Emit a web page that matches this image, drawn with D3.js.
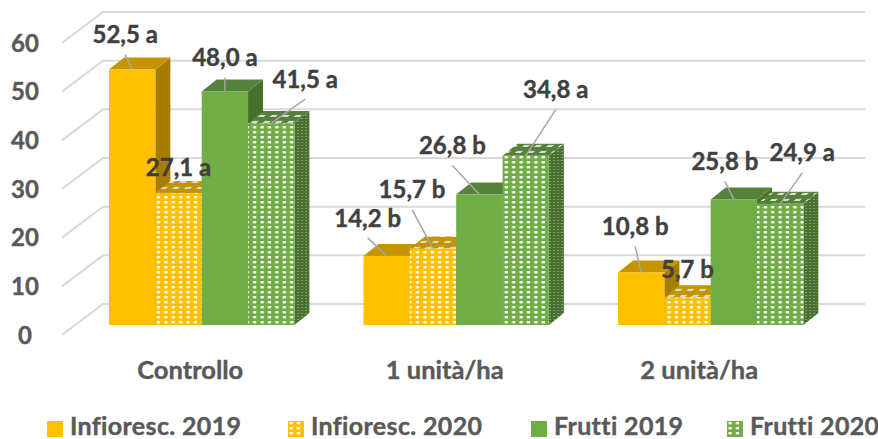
<!DOCTYPE html>
<html>
<head>
<meta charset="utf-8">
<script src="https://cdn.jsdelivr.net/npm/d3@7"></script>
<style>
  html, body { margin: 0; padding: 0; background: #fff; }
  text { font-family: Lato, "Open Sans", sans-serif; font-weight: 700; stroke-width: 0.4px; }
</style>
</head>
<body>
<svg id="chart" width="878" height="439"></svg>
<script>
var categories = ["Controllo", "1 unità/ha", "2 unità/ha"];
var series = ["Infioresc. 2019", "Infioresc. 2020", "Frutti 2019", "Frutti 2020"];
var inflo2019 = [52.5, 14.2, 10.8];
var inflo2020 = [27.1, 15.7, 5.7];
var frutti2019 = [48.0, 26.8, 25.8];
var frutti2020 = [41.5, 34.8, 24.9];
var letters = [["a", "a", "a", "a"], ["b", "b", "b", "a"], ["b", "b", "b", "a"]];
var yTicks = [0, 10, 20, 30, 40, 50, 60];

var values = [inflo2019, inflo2020, frutti2019, frutti2020];

// label placement, relative to the middle of the bar's top edge [dx, dy]
var labelOffsets = [
    [[-7, -35], [0, -26], [0, -34], [34, -44]],
    [[-19, -38], [-21, -59], [-27, -49], [30, -66]],
    [[-6, -46], [0, -28], [-9, -38], [22, -51]]
];

var svg = d3.select("#chart");

var defs = svg.append("defs");

// dotted fill, white dashes on the series colour
function addPattern(id, bg, fg, w, h, dw, dh) {
    var p = defs.append("pattern")
        .attr("id", id)
        .attr("patternUnits", "userSpaceOnUse")
        .attr("width", w)
        .attr("height", h);
    p.append("rect").attr("width", w).attr("height", h).attr("fill", bg);
    p.append("rect").attr("x", 1.5).attr("y", 1).attr("width", dw).attr("height", dh).attr("fill", fg);
}
addPattern("dotYellow", "#ffc000", "#fff", 7.4, 5, 3.2, 2.4);
addPattern("dotGreen", "#70ad47", "#fff", 7.4, 5, 3.2, 2.4);
addPattern("dotYellowSide", "#a67c00", "#d8d0b8", 4, 3, 1.2, 1);
addPattern("dotGreenSide", "#48702e", "#a9bd9c", 4, 3, 1.2, 1);

function addTopPattern(id, bg) {
    var p = defs.append("pattern")
        .attr("id", id)
        .attr("patternUnits", "userSpaceOnUse")
        .attr("width", 12)
        .attr("height", 6)
        .attr("patternTransform", "skewX(-50)");
    p.append("rect").attr("width", 12).attr("height", 6).attr("fill", bg);
    p.append("rect").attr("x", 1).attr("y", 1).attr("width", 6).attr("height", 2).attr("fill", "#d9d9d9");
}
addTopPattern("dotYellowTop", "#c49300");
addTopPattern("dotGreenTop", "#55803a");

var colors = [
    { front: "#ffc000", top: "#c49500", side: "#a67d00" },
    { front: "url(#dotYellow)", top: "url(#dotYellowTop)", side: "url(#dotYellowSide)" },
    { front: "#70ad47", top: "#55823a", side: "#47702d" },
    { front: "url(#dotGreen)", top: "url(#dotGreenTop)", side: "url(#dotGreenSide)" }
];
var legendFill = ["#ffc000", "url(#dotYellow)", "#70ad47", "url(#dotGreen)"];

// y scale is the back wall, bars sit partway into the floor
var wallDx = 41, wallDy = 31;
var barDx = 15, barDy = 12;
var y = d3.scaleLinear().domain([0, 60]).range([304, 12]);
var barBaseShift = 21;

var x0 = d3.scaleBand().domain(categories).range([82, 845.5]).paddingInner(0).paddingOuter(0);
var x1 = d3.scaleBand().domain(series).range([27, 212.4]);

// grid
var grid = svg.append("g");
grid.selectAll("path")
    .data(yTicks)
    .enter().append("path")
    .attr("d", function(d) {
        return "M62," + (y(d) + wallDy) + "L103," + y(d) + "L865," + y(d);
    })
    .attr("fill", "none")
    .attr("stroke", "#d9d9d9")
    .attr("stroke-width", 2);

// y tick labels
svg.append("g").selectAll("text")
    .data(yTicks)
    .enter().append("text")
    .attr("x", 25)
    .attr("y", function(d) { return y(d) + wallDy; })
    .attr("dy", "0.36em")
    .attr("text-anchor", "middle")
    .attr("font-size", 24)
    .attr("fill", "#595959")
    .attr("stroke", "#595959")
    .text(function(d) { return d; });

// bars, one group per category, drawn series by series so later ones overlap
var bars = [];
categories.forEach(function(c, ci) {
    series.forEach(function(s, si) {
        bars.push({ cat: c, ci: ci, series: s, si: si, value: values[si][ci] });
    });
});

function barX(d) { return x0(d.cat) + x1(d.series); }
function barTop(d) { return y(d.value) + barBaseShift; }
var barBase = y(0) + barBaseShift;

var barG = svg.append("g").selectAll("g")
    .data(bars)
    .enter().append("g");

// side face
barG.append("path")
    .attr("d", function(d) {
        var r = barX(d) + x1.bandwidth(), t = barTop(d);
        return "M" + r + "," + t + "L" + (r + barDx) + "," + (t - barDy) +
               "L" + (r + barDx) + "," + (barBase - barDy) + "L" + r + "," + barBase + "Z";
    })
    .attr("fill", function(d) { return colors[d.si].side; });

// top face
barG.append("path")
    .attr("d", function(d) {
        var l = barX(d), r = l + x1.bandwidth(), t = barTop(d);
        return "M" + l + "," + t + "L" + (l + barDx) + "," + (t - barDy) +
               "L" + (r + barDx) + "," + (t - barDy) + "L" + r + "," + t + "Z";
    })
    .attr("fill", function(d) { return colors[d.si].top; });

// front face
barG.append("rect")
    .attr("x", barX)
    .attr("y", barTop)
    .attr("width", x1.bandwidth())
    .attr("height", function(d) { return barBase - barTop(d); })
    .attr("fill", function(d) { return colors[d.si].front; });

// leader lines, skipped for labels sitting right on their bar
var labels = svg.append("g").selectAll("g")
    .data(bars)
    .enter().append("g");

function labelX(d) { return barX(d) + x1.bandwidth() / 2 + labelOffsets[d.ci][d.si][0]; }
function labelY(d) { return barTop(d) + labelOffsets[d.ci][d.si][1]; }

labels.filter(function(d) { return labelOffsets[d.ci][d.si][1] < -30; })
    .append("line")
    .attr("x1", labelX)
    .attr("y1", function(d) { return labelY(d) + 20; })
    .attr("x2", function(d) { return barX(d) + x1.bandwidth() / 2; })
    .attr("y2", barTop)
    .attr("stroke", "#a6a6a6")
    .attr("stroke-width", 1.5);

labels.append("text")
    .attr("x", labelX)
    .attr("y", labelY)
    .attr("dy", "0.36em")
    .attr("text-anchor", "middle")
    .attr("font-size", 24)
    .attr("fill", "#404040")
    .attr("stroke", "#404040")
    .text(function(d) {
        return d.value.toFixed(1).replace(".", ",") + " " + letters[d.ci][d.si];
    });

// category labels
svg.append("g").selectAll("text")
    .data(categories)
    .enter().append("text")
    .attr("x", function(d) { return x0(d) + x0.bandwidth() / 2 - 19; })
    .attr("y", 370)
    .attr("dy", "0.36em")
    .attr("text-anchor", "middle")
    .attr("font-size", 25.5)
    .attr("fill", "#595959")
    .attr("stroke", "#595959")
    .text(function(d) { return d; });

// legend
var legendX = [47, 288, 531, 727];
var legend = svg.append("g").selectAll("g")
    .data(series)
    .enter().append("g")
    .attr("transform", function(d, i) { return "translate(" + legendX[i] + ",421)"; });

legend.append("rect")
    .attr("width", 16)
    .attr("height", 16)
    .attr("fill", function(d, i) { return legendFill[i]; });

legend.append("text")
    .attr("x", 23)
    .attr("y", 14)
    .attr("font-size", 25)
    .attr("letter-spacing", 0.35)
    .attr("fill", "#595959")
    .attr("stroke", "#595959")
    .text(function(d) { return d; });
</script>
</body>
</html>
